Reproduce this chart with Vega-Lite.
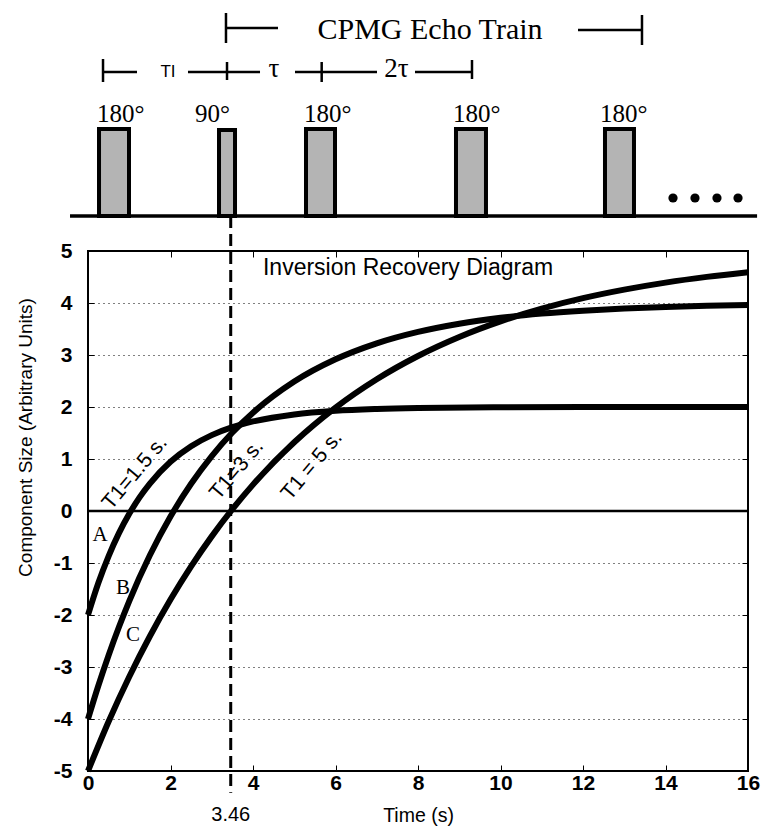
{
  "$schema": "https://vega.github.io/schema/vega-lite/v6.json",
  "width": 660,
  "height": 520,
  "autosize": {"type": "none"},
  "padding": {"left": 88, "top": 251, "right": 17, "bottom": 56},
  "background": "white",
  "config": {
    "font": "Liberation Sans",
    "view": {"stroke": "black", "strokeWidth": 2},
    "axis": {"labelColor": "black", "titleColor": "black", "tickColor": "black", "labelFont": "Liberation Sans", "titleFont": "Liberation Sans", "titleFontWeight": "normal", "labelFlush": false, "labelOverlap": false}
  },
  "resolve": {"axis": {"x": "independent", "y": "independent"}},
  "layer": [
    {
      "data": {"values": [
        {"curve": "A", "t": 0, "m": -2}, {"curve": "A", "t": 0.25, "m": -1.386}, {"curve": "A", "t": 0.5, "m": -0.866}, {"curve": "A", "t": 0.75, "m": -0.426}, {"curve": "A", "t": 1, "m": -0.054}, {"curve": "A", "t": 1.25, "m": 0.262}, {"curve": "A", "t": 1.5, "m": 0.528}, {"curve": "A", "t": 2, "m": 0.946}, {"curve": "A", "t": 2.5, "m": 1.245}, {"curve": "A", "t": 3, "m": 1.459}, {"curve": "A", "t": 3.5, "m": 1.612}, {"curve": "A", "t": 4, "m": 1.722}, {"curve": "A", "t": 5, "m": 1.857}, {"curve": "A", "t": 6, "m": 1.927}, {"curve": "A", "t": 7, "m": 1.962}, {"curve": "A", "t": 8, "m": 1.981}, {"curve": "A", "t": 10, "m": 1.995}, {"curve": "A", "t": 12, "m": 1.999}, {"curve": "A", "t": 14, "m": 2.0}, {"curve": "A", "t": 16, "m": 2.0},
        {"curve": "B", "t": 0, "m": -4}, {"curve": "B", "t": 0.25, "m": -3.36}, {"curve": "B", "t": 0.5, "m": -2.772}, {"curve": "B", "t": 0.75, "m": -2.23}, {"curve": "B", "t": 1, "m": -1.732}, {"curve": "B", "t": 1.5, "m": -0.852}, {"curve": "B", "t": 2, "m": -0.107}, {"curve": "B", "t": 2.5, "m": 0.523}, {"curve": "B", "t": 3, "m": 1.057}, {"curve": "B", "t": 3.5, "m": 1.509}, {"curve": "B", "t": 4, "m": 1.891}, {"curve": "B", "t": 5, "m": 2.489}, {"curve": "B", "t": 6, "m": 2.917}, {"curve": "B", "t": 7, "m": 3.224}, {"curve": "B", "t": 8, "m": 3.444}, {"curve": "B", "t": 9, "m": 3.602}, {"curve": "B", "t": 10, "m": 3.715}, {"curve": "B", "t": 11, "m": 3.796}, {"curve": "B", "t": 12, "m": 3.853}, {"curve": "B", "t": 13, "m": 3.895}, {"curve": "B", "t": 14, "m": 3.925}, {"curve": "B", "t": 15, "m": 3.946}, {"curve": "B", "t": 16, "m": 3.961},
        {"curve": "C", "t": 0, "m": -5}, {"curve": "C", "t": 0.5, "m": -4.048}, {"curve": "C", "t": 1, "m": -3.187}, {"curve": "C", "t": 1.5, "m": -2.408}, {"curve": "C", "t": 2, "m": -1.703}, {"curve": "C", "t": 2.5, "m": -1.065}, {"curve": "C", "t": 3, "m": -0.488}, {"curve": "C", "t": 3.5, "m": 0.034}, {"curve": "C", "t": 4, "m": 0.507}, {"curve": "C", "t": 5, "m": 1.321}, {"curve": "C", "t": 6, "m": 1.988}, {"curve": "C", "t": 7, "m": 2.534}, {"curve": "C", "t": 8, "m": 2.981}, {"curve": "C", "t": 9, "m": 3.347}, {"curve": "C", "t": 10, "m": 3.647}, {"curve": "C", "t": 11, "m": 3.892}, {"curve": "C", "t": 12, "m": 4.093}, {"curve": "C", "t": 13, "m": 4.257}, {"curve": "C", "t": 14, "m": 4.392}, {"curve": "C", "t": 15, "m": 4.502}, {"curve": "C", "t": 16, "m": 4.592}
      ]},
      "mark": {"type": "line", "color": "black", "strokeWidth": 6, "interpolate": "monotone"},
      "encoding": {
        "x": {"field": "t", "type": "quantitative", "scale": {"domain": [0, 16], "nice": false, "zero": false},
          "axis": {"orient": "bottom", "values": [0, 2, 4, 6, 8, 10, 12, 14, 16], "tickSize": -6, "labelPadding": 7, "labelFontSize": 21, "labelFontWeight": "bold", "labelExpr": "toString(datum.value)", "grid": false, "domain": false, "title": "Time (s)", "titleFontSize": 19.5, "titleX": 330, "titleY": 44, "titleBaseline": "middle", "titleAlign": "center"}},
        "y": {"field": "m", "type": "quantitative", "scale": {"domain": [-5, 5], "nice": false, "zero": false},
          "axis": {"orient": "left", "values": [-5, -4, -3, -2, -1, 0, 1, 2, 3, 4, 5], "tickSize": -6, "labelPadding": 22, "labelFontSize": 21, "labelFontWeight": "bold", "labelExpr": "toString(datum.value)", "grid": true, "gridDash": [1, 4], "gridColor": "black", "gridOpacity": 1, "gridWidth": 1, "domain": false, "title": "Component Size (Arbitrary Units)", "titleFontSize": 19, "titleAngle": -90, "titleX": -63, "titleY": 186, "titleAlign": "center", "titleBaseline": "middle"}},
        "detail": {"field": "curve"}
      }
    },
    {
      "data": {"values": [{"x": 0, "y": 0}]},
      "mark": {"type": "rule", "color": "black", "strokeWidth": 2.5},
      "encoding": {
        "x": {"field": "x", "type": "quantitative", "axis": {"orient": "top", "values": [0, 2, 4, 6, 8, 10, 12, 14, 16], "tickSize": -6, "labels": false, "grid": false, "domain": false, "title": null}},
        "y": {"field": "y", "type": "quantitative", "axis": {"orient": "right", "values": [-5, -4, -3, -2, -1, 0, 1, 2, 3, 4, 5], "tickSize": -6, "labels": false, "grid": false, "domain": false, "title": null}}
      }
    },
    {
      "data": {"values": [{"x": 0, "x2": 16, "y": 0}]},
      "mark": {"type": "rule", "color": "black", "strokeWidth": 2.5},
      "encoding": {
        "x": {"field": "x", "type": "quantitative", "axis": null},
        "x2": {"field": "x2"},
        "y": {"field": "y", "type": "quantitative", "axis": null}
      }
    },
    {
      "data": {"values": [{"x": 3.46, "y": 5.673, "y2": -5.42}]},
      "mark": {"type": "rule", "color": "black", "strokeWidth": 3, "strokeDash": [12, 6]},
      "encoding": {
        "x": {"field": "x", "type": "quantitative", "axis": null},
        "y": {"field": "y", "type": "quantitative", "axis": null},
        "y2": {"field": "y2"}
      }
    },
    {
      "data": {"values": [{"x": -0.436, "x2": 16.22, "y": 5.673}]},
      "mark": {"type": "rule", "color": "black", "strokeWidth": 3.5},
      "encoding": {
        "x": {"field": "x", "type": "quantitative", "axis": null},
        "x2": {"field": "x2"},
        "y": {"field": "y", "type": "quantitative", "axis": null}
      }
    },
    {
      "data": {"values": [
        {"pulse": "180a", "x": 0.267, "x2": 0.994, "y": 7.346, "y2": 5.673},
        {"pulse": "90", "x": 3.176, "x2": 3.564, "y": 7.327, "y2": 5.673},
        {"pulse": "180b", "x": 5.285, "x2": 5.988, "y": 7.346, "y2": 5.673},
        {"pulse": "180c", "x": 8.921, "x2": 9.648, "y": 7.346, "y2": 5.673},
        {"pulse": "180d", "x": 12.533, "x2": 13.236, "y": 7.346, "y2": 5.673}
      ]},
      "mark": {"type": "rect", "fill": "#b4b4b4", "stroke": "black", "strokeWidth": 4},
      "encoding": {
        "x": {"field": "x", "type": "quantitative", "axis": null},
        "x2": {"field": "x2"},
        "y": {"field": "y", "type": "quantitative", "axis": null},
        "y2": {"field": "y2"}
      }
    },
    {
      "data": {"values": [
        {"x": 0.364, "x2": 0.364, "y": 8.692, "y2": 8.25},
        {"x": 0.364, "x2": 1.188, "y": 8.442, "y2": 8.442},
        {"x": 2.424, "x2": 4.17, "y": 8.442, "y2": 8.442},
        {"x": 3.37, "x2": 3.37, "y": 8.635, "y2": 8.288},
        {"x": 5.018, "x2": 7.006, "y": 8.442, "y2": 8.442},
        {"x": 5.665, "x2": 5.665, "y": 8.635, "y2": 8.25},
        {"x": 7.927, "x2": 9.309, "y": 8.442, "y2": 8.442},
        {"x": 9.309, "x2": 9.309, "y": 8.673, "y2": 8.308},
        {"x": 3.345, "x2": 3.345, "y": 9.577, "y2": 9.0},
        {"x": 3.345, "x2": 4.606, "y": 9.288, "y2": 9.288},
        {"x": 11.879, "x2": 13.43, "y": 9.25, "y2": 9.25},
        {"x": 13.43, "x2": 13.43, "y": 9.538, "y2": 8.962}
      ]},
      "mark": {"type": "rule", "color": "black", "strokeWidth": 2.5},
      "encoding": {
        "x": {"field": "x", "type": "quantitative", "axis": null},
        "x2": {"field": "x2"},
        "y": {"field": "y", "type": "quantitative", "axis": null},
        "y2": {"field": "y2"}
      }
    },
    {
      "data": {"values": [{"x": 14.182, "y": 6.019}, {"x": 14.715, "y": 6.019}, {"x": 15.248, "y": 6.019}, {"x": 15.758, "y": 6.019}]},
      "mark": {"type": "point", "filled": true, "color": "black", "size": 85, "opacity": 1},
      "encoding": {
        "x": {"field": "x", "type": "quantitative", "axis": null},
        "y": {"field": "y", "type": "quantitative", "axis": null}
      }
    },
    {
      "data": {"values": [
        {"x": 0.218, "y": 7.48, "label": "180°"},
        {"x": 2.594, "y": 7.48, "label": "90°"},
        {"x": 5.236, "y": 7.48, "label": "180°"},
        {"x": 8.85, "y": 7.48, "label": "180°"},
        {"x": 12.412, "y": 7.48, "label": "180°"}
      ]},
      "mark": {"type": "text", "font": "Liberation Serif", "fontSize": 25, "align": "left", "baseline": "alphabetic", "color": "black"},
      "encoding": {
        "x": {"field": "x", "type": "quantitative", "axis": null},
        "y": {"field": "y", "type": "quantitative", "axis": null},
        "text": {"field": "label"}
      }
    },
    {
      "data": {"values": [{"x": 8.291, "y": 9.077, "label": "CPMG Echo Train"}]},
      "mark": {"type": "text", "font": "Liberation Serif", "fontSize": 30, "align": "center", "baseline": "alphabetic", "color": "black"},
      "encoding": {
        "x": {"field": "x", "type": "quantitative", "axis": null},
        "y": {"field": "y", "type": "quantitative", "axis": null},
        "text": {"field": "label"}
      }
    },
    {
      "data": {"values": [{"x": 4.509, "y": 8.5, "label": "τ"}, {"x": 7.479, "y": 8.5, "label": "2τ"}]},
      "mark": {"type": "text", "font": "Liberation Serif", "fontSize": 27, "align": "center", "baseline": "middle", "color": "black"},
      "encoding": {
        "x": {"field": "x", "type": "quantitative", "axis": null},
        "y": {"field": "y", "type": "quantitative", "axis": null},
        "text": {"field": "label"}
      }
    },
    {
      "data": {"values": [{"x": 1.94, "y": 8.442, "label": "TI"}]},
      "mark": {"type": "text", "font": "Liberation Sans", "fontSize": 17, "align": "center", "baseline": "middle", "color": "black"},
      "encoding": {
        "x": {"field": "x", "type": "quantitative", "axis": null},
        "y": {"field": "y", "type": "quantitative", "axis": null},
        "text": {"field": "label"}
      }
    },
    {
      "data": {"values": [{"x": 0.29, "y": -0.46, "label": "A"}, {"x": 0.85, "y": -1.48, "label": "B"}, {"x": 1.09, "y": -2.38, "label": "C"}]},
      "mark": {"type": "text", "font": "Liberation Serif", "fontSize": 21, "align": "center", "baseline": "middle", "color": "black"},
      "encoding": {
        "x": {"field": "x", "type": "quantitative", "axis": null},
        "y": {"field": "y", "type": "quantitative", "axis": null},
        "text": {"field": "label"}
      }
    },
    {
      "data": {"values": [{"x": 1.14, "y": 0.73, "label": "T1=1.5 s."}, {"x": 3.61, "y": 0.79, "label": "T1=3 s."}, {"x": 5.43, "y": 0.87, "label": "T1 = 5 s."}]},
      "mark": {"type": "text", "font": "Liberation Sans", "fontSize": 21, "angle": -50, "align": "center", "baseline": "middle", "color": "black"},
      "encoding": {
        "x": {"field": "x", "type": "quantitative", "axis": null},
        "y": {"field": "y", "type": "quantitative", "axis": null},
        "text": {"field": "label"}
      }
    },
    {
      "data": {"values": [{"x": 4.242, "y": 4.673, "label": "Inversion Recovery Diagram"}]},
      "mark": {"type": "text", "font": "Liberation Sans", "fontSize": 23, "align": "left", "baseline": "middle", "color": "black"},
      "encoding": {
        "x": {"field": "x", "type": "quantitative", "axis": null},
        "y": {"field": "y", "type": "quantitative", "axis": null},
        "text": {"field": "label"}
      }
    },
    {
      "data": {"values": [{"x": 3.46, "y": -5.846, "label": "3.46"}]},
      "mark": {"type": "text", "font": "Liberation Sans", "fontSize": 20, "align": "center", "baseline": "middle", "color": "black"},
      "encoding": {
        "x": {"field": "x", "type": "quantitative", "axis": null},
        "y": {"field": "y", "type": "quantitative", "axis": null},
        "text": {"field": "label"}
      }
    }
  ]
}
